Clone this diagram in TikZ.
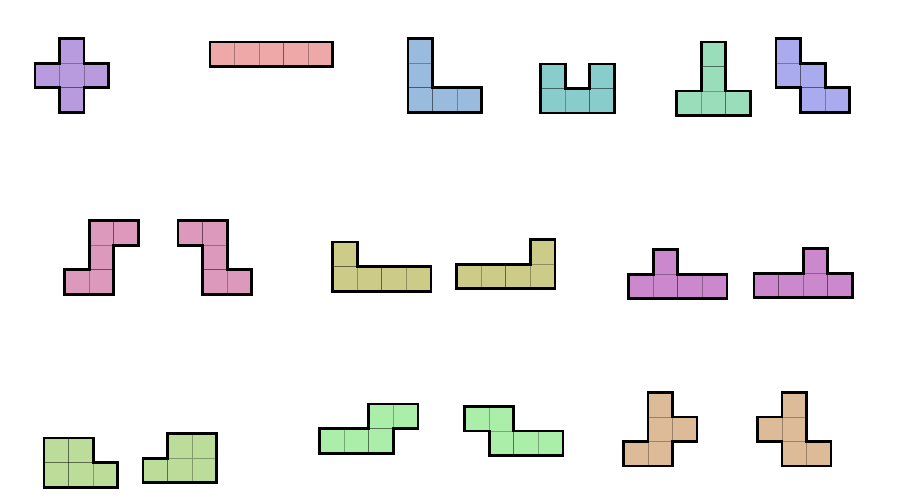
\documentclass[tikz,border=0pt]{standalone}
\definecolor{cX}{RGB}{184,154,222}
\definecolor{cI}{RGB}{239,168,168}
\definecolor{cV}{RGB}{153,187,221}
\definecolor{cU}{RGB}{136,204,204}
\definecolor{cT}{RGB}{153,221,187}
\definecolor{cW}{RGB}{170,170,238}
\definecolor{cZ}{RGB}{221,153,187}
\definecolor{cL}{RGB}{204,204,136}
\definecolor{cY}{RGB}{204,136,204}
\definecolor{cP}{RGB}{187,221,153}
\definecolor{cN}{RGB}{170,238,170}
\definecolor{cF}{RGB}{221,187,153}
\tikzset{
  cellbox/.style={draw=black, draw opacity=0.3, line width=0.8pt},
  outline/.style={draw=black, line width=2.7pt, line join=miter}
}
\newcommand\pentpiece[4]{%
  \begin{scope}[shift={#1}, shift={(1.35,1.35)}, x=24.55pt, y=-24.55pt]
    \foreach \a/\b in {#3} {\filldraw[cellbox, fill=#2] (\a,\b) rectangle ++(1,1);}
    \draw[outline] #4 -- cycle;
  \end{scope}}
\begin{document}
\begin{tikzpicture}[x=1pt,y=-1pt]
\useasboundingbox (0,0) rectangle (900,500);
% row 1
\pentpiece{(33.5,37.3)}{cX}{1/0,0/1,1/1,2/1,1/2}{(1,0)--(2,0)--(2,1)--(3,1)--(3,2)--(2,2)--(2,3)--(1,3)--(1,2)--(0,2)--(0,1)--(1,1)}
\pentpiece{(208.5,40.7)}{cI}{0/0,1/0,2/0,3/0,4/0}{(0,0)--(5,0)--(5,1)--(0,1)}
\pentpiece{(406.7,37.3)}{cV}{0/0,0/1,0/2,1/2,2/2}{(0,0)--(1,0)--(1,2)--(3,2)--(3,3)--(0,3)}
\pentpiece{(539.3,62.7)}{cU}{0/0,2/0,0/1,1/1,2/1}{(0,0)--(1,0)--(1,1)--(2,1)--(2,0)--(3,0)--(3,2)--(0,2)}
\pentpiece{(675.3,40.7)}{cT}{1/0,1/1,0/2,1/2,2/2}{(1,0)--(2,0)--(2,2)--(3,2)--(3,3)--(0,3)--(0,2)--(1,2)}
\pentpiece{(774.7,37.3)}{cW}{0/0,0/1,1/1,1/2,2/2}{(0,0)--(1,0)--(1,1)--(2,1)--(2,2)--(3,2)--(3,3)--(1,3)--(1,2)--(0,2)}
% row 2
\pentpiece{(63.3,219.3)}{cZ}{1/0,2/0,1/1,0/2,1/2}{(1,0)--(3,0)--(3,1)--(2,1)--(2,3)--(0,3)--(0,2)--(1,2)}
\pentpiece{(176.7,219.3)}{cZ}{0/0,1/0,1/1,1/2,2/2}{(0,0)--(2,0)--(2,2)--(3,2)--(3,3)--(1,3)--(1,1)--(0,1)}
\pentpiece{(331.3,240.7)}{cL}{0/0,0/1,1/1,2/1,3/1}{(0,0)--(1,0)--(1,1)--(4,1)--(4,2)--(0,2)}
\pentpiece{(455.3,238.3)}{cL}{3/0,0/1,1/1,2/1,3/1}{(3,0)--(4,0)--(4,2)--(0,2)--(0,1)--(3,1)}
\pentpiece{(627.3,248.3)}{cY}{1/0,0/1,1/1,2/1,3/1}{(1,0)--(2,0)--(2,1)--(4,1)--(4,2)--(0,2)--(0,1)--(1,1)}
\pentpiece{(752.7,247.3)}{cY}{2/0,0/1,1/1,2/1,3/1}{(2,0)--(3,0)--(3,1)--(4,1)--(4,2)--(0,2)--(0,1)--(2,1)}
% row 3
\pentpiece{(42.7,436.7)}{cP}{0/0,1/0,0/1,1/1,2/1}{(0,0)--(2,0)--(2,1)--(3,1)--(3,2)--(0,2)}
\pentpiece{(141.7,432.3)}{cP}{1/0,2/0,0/1,1/1,2/1}{(1,0)--(3,0)--(3,2)--(0,2)--(0,1)--(1,1)}
\pentpiece{(318.3,402.7)}{cN}{2/0,3/0,0/1,1/1,2/1}{(2,0)--(4,0)--(4,1)--(3,1)--(3,2)--(0,2)--(0,1)--(2,1)}
\pentpiece{(463.3,405)}{cN}{0/0,1/0,1/1,2/1,3/1}{(0,0)--(2,0)--(2,1)--(4,1)--(4,2)--(1,2)--(1,1)--(0,1)}
\pentpiece{(622,391)}{cF}{1/0,1/1,2/1,0/2,1/2}{(1,0)--(2,0)--(2,1)--(3,1)--(3,2)--(2,2)--(2,3)--(0,3)--(0,2)--(1,2)}
\pentpiece{(756,391)}{cF}{1/0,0/1,1/1,1/2,2/2}{(1,0)--(2,0)--(2,2)--(3,2)--(3,3)--(1,3)--(1,2)--(0,2)--(0,1)--(1,1)}
\end{tikzpicture}
\end{document}
